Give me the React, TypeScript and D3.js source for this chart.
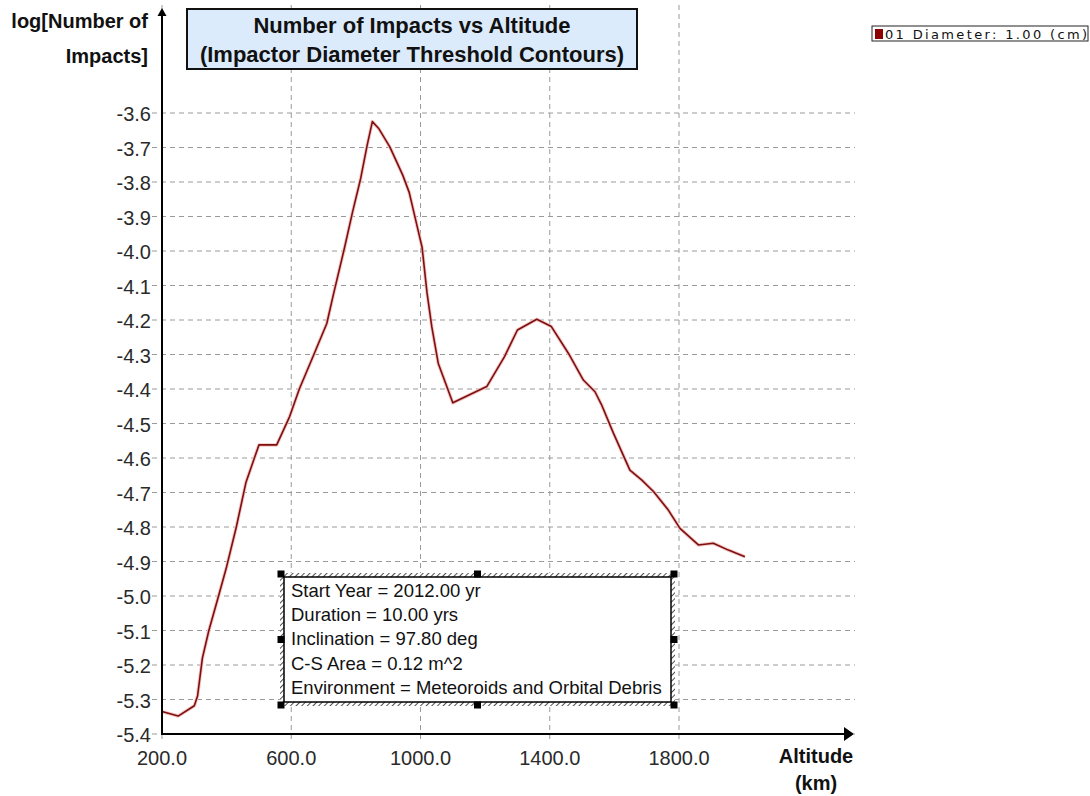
import React from "react";
import * as d3 from "d3";

const altitudes = [200, 250, 300, 310, 325, 345, 375, 400, 430, 460, 500, 555, 595, 625, 670, 710, 730, 765, 790, 815, 835, 851, 870, 905, 945, 965, 990, 1005, 1020, 1035, 1055, 1100, 1205, 1260, 1300, 1360, 1405, 1458, 1504, 1540, 1560, 1597, 1648, 1685, 1721, 1767, 1803, 1860, 1906, 1953, 2004];
const logImpacts = [-5.335, -5.348, -5.318, -5.29, -5.18, -5.1, -5.0, -4.915, -4.8, -4.67, -4.562, -4.562, -4.48, -4.4, -4.3, -4.21, -4.128, -3.99, -3.886, -3.789, -3.693, -3.625, -3.644, -3.698, -3.78, -3.83, -3.93, -3.99, -4.12, -4.22, -4.326, -4.44, -4.393, -4.306, -4.229, -4.198, -4.219, -4.297, -4.374, -4.408, -4.445, -4.528, -4.635, -4.664, -4.697, -4.751, -4.804, -4.852, -4.847, -4.867, -4.886];

const xTicks = [200, 600, 1000, 1400, 1800];
const yTicks = [-5.4, -5.3, -5.2, -5.1, -5.0, -4.9, -4.8, -4.7, -4.6, -4.5, -4.4, -4.3, -4.2, -4.1, -4.0, -3.9, -3.8, -3.7, -3.6];

const titleLines = ["Number of Impacts vs Altitude", "(Impactor Diameter Threshold Contours)"];
const yLabelLines = ["log[Number of", "Impacts]"];
const xLabelLines = ["Altitude", "(km)"];
const legendLabel = "01 Diameter: 1.00 (cm)";
const infoLines = [
  "Start Year = 2012.00 yr",
  "Duration = 10.00 yrs",
  "Inclination = 97.80 deg",
  "C-S Area = 0.12 m^2",
  "Environment = Meteoroids and Orbital Debris",
];

export default function App() {
  const x = d3.scaleLinear().domain([200, 1800]).range([162, 679]);
  const y = d3.scaleLinear().domain([-5.4, -3.6]).range([734, 113]);
  const pts = altitudes.map((a, i) => [a, logImpacts[i]] as [number, number]);
  const line = d3
    .line<[number, number]>()
    .x((d) => x(d[0]))
    .y((d) => y(d[1]));

  const font = "'Liberation Sans', Arial, sans-serif";
  const gridColor = "#9a9a9a";
  const lineColor = "#7d0f0f";

  // annotation box geometry
  const bx0 = 280, bx1 = 675, by0 = 573, by1 = 706;
  const handles: [number, number][] = [
    [bx0 + 1, by0 + 1], [(bx0 + bx1) / 2, by0 + 1], [bx1 - 1, by0 + 1],
    [bx0 + 1, (by0 + by1) / 2], [bx1 - 1, (by0 + by1) / 2],
    [bx0 + 1, by1 - 1], [(bx0 + bx1) / 2, by1 - 1], [bx1 - 1, by1 - 1],
  ];

  return (
    <svg
      width={1090}
      height={796}
      style={{ position: "absolute", left: 0, top: 0, background: "#fff" }}
      fontFamily={font}
    >
      <defs>
        <pattern id="hatch" width="4" height="4" patternUnits="userSpaceOnUse" patternTransform="rotate(45)">
          <rect width="4" height="4" fill="#fff" />
          <line x1="0" y1="0" x2="0" y2="4" stroke="#222" strokeWidth="1.6" />
        </pattern>
      </defs>

      {/* horizontal gridlines */}
      {yTicks.map((t) => (
        <line
          key={"hy" + t}
          x1={152}
          x2={855}
          y1={y(t)}
          y2={y(t)}
          stroke={gridColor}
          strokeWidth={1}
          strokeDasharray="5,4"
        />
      ))}
      {/* vertical gridlines */}
      {xTicks.map((t) => (
        <line
          key={"vx" + t}
          x1={x(t)}
          x2={x(t)}
          y1={5}
          y2={743}
          stroke={gridColor}
          strokeWidth={1}
          strokeDasharray="5,4"
        />
      ))}

      {/* y tick labels */}
      {yTicks.map((t) => (
        <text
          key={"yl" + t}
          x={151}
          y={y(t) + 8}
          textAnchor="end"
          fontSize={20}
          fill="#2a2a2a"
        >
          {t.toFixed(1)}
        </text>
      ))}
      {/* x tick labels */}
      {xTicks.map((t) => (
        <text
          key={"xl" + t}
          x={x(t)}
          y={765}
          textAnchor="middle"
          fontSize={20}
          fill="#2a2a2a"
        >
          {t.toFixed(1)}
        </text>
      ))}

      {/* data line */}
      <path d={line(pts) || ""} fill="none" stroke="#f3c6c6" strokeWidth={3.5} strokeLinejoin="round" />
      <path d={line(pts) || ""} fill="none" stroke={lineColor} strokeWidth={1.6} strokeLinejoin="round" />

      {/* axes */}
      <line x1={162} x2={162} y1={735} y2={12} stroke="#000" strokeWidth={2} />
      <path d="M162,8 L157.5,16 L166.5,16 Z" fill="#000" />
      <line x1={161} x2={846} y1={734} y2={734} stroke="#000" strokeWidth={2} />
      <path d="M854,734 L844,727 L844,741 Z" fill="#000" />

      {/* axis titles */}
      {yLabelLines.map((s, i) => (
        <text key={"yt" + i} x={148} y={28 + i * 35} textAnchor="end" fontSize={20} fontWeight="bold" fill="#111">
          {s}
        </text>
      ))}
      {xLabelLines.map((s, i) => (
        <text key={"xt" + i} x={816} y={763 + i * 27} textAnchor="middle" fontSize={20} fontWeight="bold" fill="#111">
          {s}
        </text>
      ))}

      {/* title box */}
      <rect x={187} y={9} width={450} height={60} fill="#dcebfb" stroke="#111" strokeWidth={2} />
      {titleLines.map((s, i) => (
        <text key={"tt" + i} x={412} y={33 + i * 29} textAnchor="middle" fontSize={22} fontWeight="bold" fill="#111">
          {s}
        </text>
      ))}

      {/* legend */}
      <rect x={872} y={26} width={216} height={15} fill="#fff" stroke="#222" strokeWidth={1} />
      <rect x={875} y={29} width={8} height={10} fill="#8b0000" />
      <text x={885} y={38.5} fontSize={13} fill="#111" textLength={202} lengthAdjust="spacing" fontFamily="'DejaVu Sans', Verdana, sans-serif">
        {legendLabel}
      </text>

      {/* annotation box */}
      <rect x={bx0} y={by0} width={bx1 - bx0} height={by1 - by0} fill="url(#hatch)" />
      <rect x={bx0 + 4} y={by0 + 4} width={bx1 - bx0 - 8} height={by1 - by0 - 8} fill="#fff" stroke="#000" strokeWidth={1.5} />
      {handles.map((h, i) => (
        <rect key={"h" + i} x={h[0] - 3.5} y={h[1] - 3.5} width={7} height={7} fill="#000" />
      ))}
      {infoLines.map((s, i) => (
        <text key={"il" + i} x={291} y={597 + i * 24.2} fontSize={18.5} fill="#111">
          {s}
        </text>
      ))}
    </svg>
  );
}
